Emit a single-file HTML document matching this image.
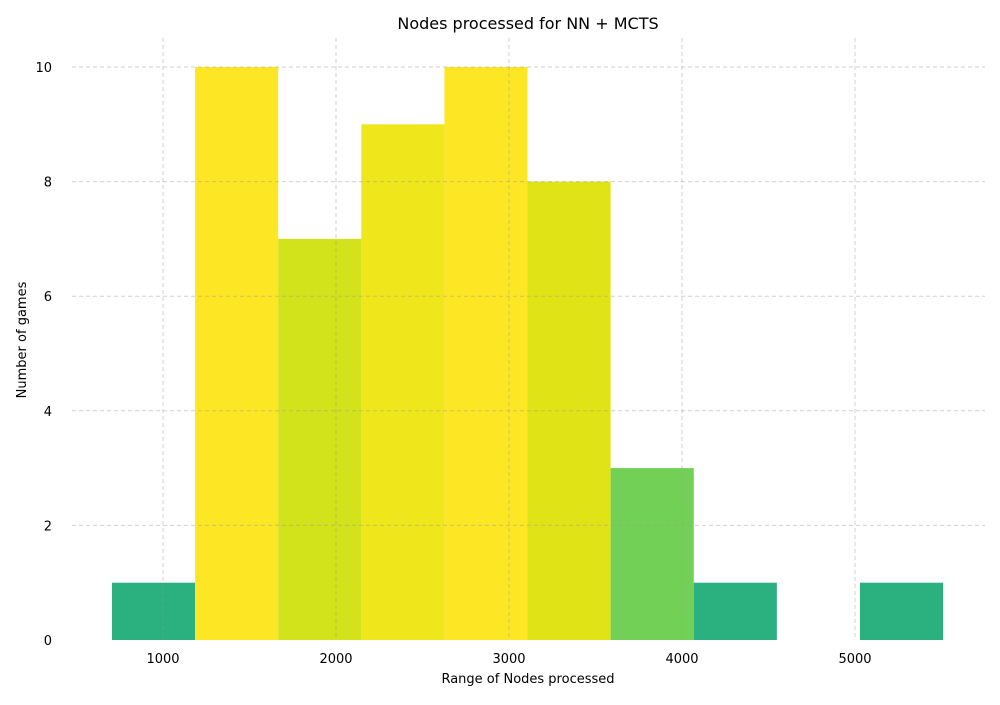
<!DOCTYPE html>
<html><head><meta charset="utf-8"><style>
body{margin:0;background:#fff;font-family:"Liberation Sans","DejaVu Sans",sans-serif;}
svg text{font-family:"DejaVu Sans","Liberation Sans",sans-serif;}
</style></head><body>
<svg id="chart" width="1000" height="700">
<text x="528" y="29" font-size="16" text-anchor="middle">Nodes processed for NN + MCTS</text>
<text x="528" y="683" font-size="13" text-anchor="middle">Range of Nodes processed</text>
<text transform="translate(26,340) rotate(-90)" font-size="13" text-anchor="middle">Number of games</text>
<g id="bars"></g><g id="grid"></g><g id="ticks"></g>
</svg>
<script>
const binStart = 705;
const binWidth = 480.4;
const counts = [1, 10, 7, 9, 10, 8, 3, 1, 0, 1];
const xTicks = [1000, 2000, 3000, 4000, 5000];
const yTicks = [0, 2, 4, 6, 8, 10];
const NS = "http://www.w3.org/2000/svg";
const xs = v => -10 + v * 0.173;
const ys = v => 640 - v * 57.3;
const stops = [[0,[43,176,127]],[0.222,[115,208,86]],[0.667,[210,226,27]],[0.778,[224,227,22]],[0.889,[240,230,28]],[1,[253,231,37]]];
function color(t){for(let i=1;i<stops.length;i++){if(t<=stops[i][0]){const a=stops[i-1],b=stops[i];const f=(t-a[0])/(b[0]-a[0]);return 'rgb('+a[1].map((c,k)=>Math.round(c+(b[1][k]-c)*f)).join(',')+')';}}return 'rgb(253,231,37)';}
const maxC = Math.max(...counts), minC = 1;
const bars = document.getElementById('bars');
counts.forEach((c,i)=>{ if(c<=0) return;
  const r=document.createElementNS(NS,'rect');
  const x0=xs(binStart+i*binWidth), x1=xs(binStart+(i+1)*binWidth);
  r.setAttribute('x',x0); r.setAttribute('width',x1-x0);
  r.setAttribute('y',ys(c)); r.setAttribute('height',ys(0)-ys(c));
  r.setAttribute('fill',color((c-minC)/(maxC-minC)));
  
  
  bars.appendChild(r);
});
const grid=document.getElementById('grid'), ticks=document.getElementById('ticks');
xTicks.forEach(t=>{
  const l=document.createElementNS(NS,'line');
  l.setAttribute('x1',xs(t));l.setAttribute('x2',xs(t));l.setAttribute('y1',38);l.setAttribute('y2',640);
  l.setAttribute('stroke','rgba(150,150,150,0.45)');l.setAttribute('stroke-dasharray','4,3');
  
  
  grid.appendChild(l);
  const tx=document.createElementNS(NS,'text');
  tx.setAttribute('x',xs(t));tx.setAttribute('y',663);tx.setAttribute('font-size','13');tx.setAttribute('text-anchor','middle');
  tx.textContent=t;
  
  
  ticks.appendChild(tx);
});
yTicks.forEach(t=>{
  if(t>0){const l=document.createElementNS(NS,'line');
  l.setAttribute('x1',72);l.setAttribute('x2',985);l.setAttribute('y1',ys(t));l.setAttribute('y2',ys(t));
  l.setAttribute('stroke','rgba(150,150,150,0.45)');l.setAttribute('stroke-dasharray','4,3');
  
  
  grid.appendChild(l);}
  const tx=document.createElementNS(NS,'text');
  tx.setAttribute('x',52);tx.setAttribute('y',ys(t)+5);tx.setAttribute('font-size','13');tx.setAttribute('text-anchor','end');
  tx.textContent=t;
  
  
  ticks.appendChild(tx);
});
</script>
</body></html>
